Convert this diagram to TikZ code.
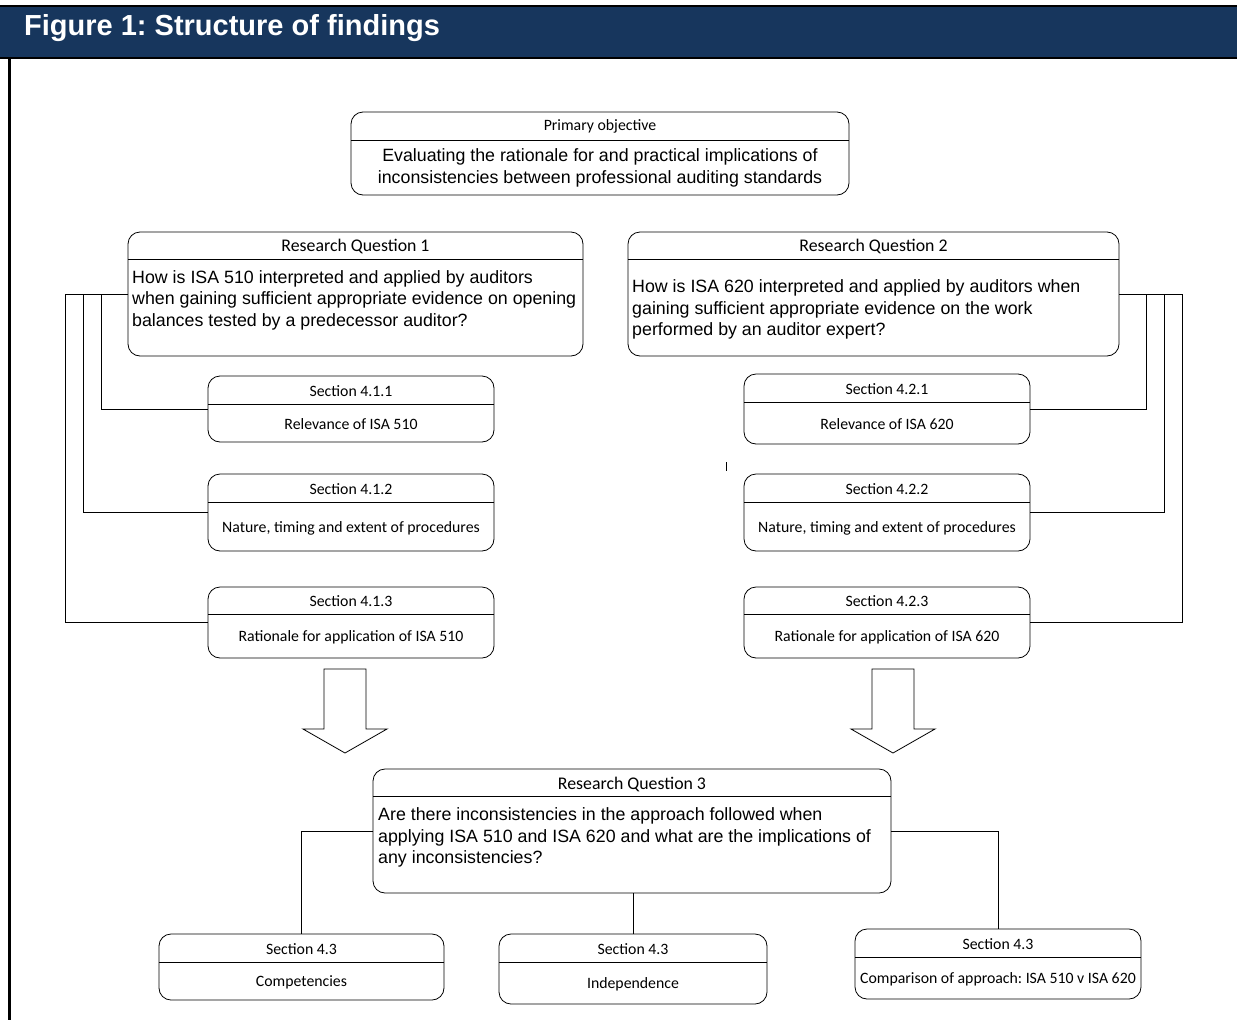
\documentclass[tikz,border=0pt]{standalone}
\usepackage{fontspec}
\setmainfont{Liberation Sans}
\newfontfamily\carlito{Carlito}
\usetikzlibrary{calc}
\definecolor{banner}{RGB}{23,54,93}
\frenchspacing

\tikzset{
  box/.style={draw, rounded corners=12pt, inner sep=0pt, outer sep=0pt, line width=0.8pt},
  headtext/.style={font=\carlito\fontsize{15.8}{19}\selectfont, inner sep=0pt},
  rqhead/.style={font=\carlito\fontsize{17.8}{21}\selectfont, inner sep=0pt},
  bodytext/.style={font=\fontsize{17.8}{21.5}\selectfont, inner sep=0pt},
  link/.style={line width=0.7pt},
  blockarrow/.style={draw, line width=0.8pt, fill=white},
}

\begin{document}
\begin{tikzpicture}[x=1pt, y=-1pt]
  \useasboundingbox (0,0) rectangle (1237,1020);
  % title bar and frame
  \fill[banner] (0,6) rectangle (1237,57);
  \draw[line width=2pt] (0,5.5) -- (1237,5.5);
  \draw[line width=2pt] (0,57.5) -- (1237,57.5);
  \draw[line width=2.5pt] (9.5,57) -- (9.5,1020);
  \node[anchor=base west, text=white, font=\bfseries\fontsize{29}{34}\selectfont, inner sep=0pt] (title) at (24,35) {Figure 1: Structure of findings};

  % primary objective
  \node[box, minimum width=498, minimum height=83] (prim) at (600,153.5) {};
  \draw ($(prim.north west)+(0,28)$) -- ($(prim.north east)+(0,28)$);
  \node[headtext] (prim-head) at ($(prim.north)+(0,14.5)$) {Primary objective};
  \node[bodytext, align=center] (prim-body) at ($(prim.north)+(0,56)$) {Evaluating the rationale for and practical implications of\\inconsistencies between professional auditing standards};

  % research questions
  \foreach \nm/\cx/\cy/\w in {rq1/355.5/294/455, rq2/873.5/294/491, rq3/632/831/518}{
    \node[box, minimum width=\w, minimum height=124] (\nm) at (\cx,\cy) {};
    \draw ($(\nm.north west)+(0,27.5)$) -- ($(\nm.north east)+(0,27.5)$);
  }
  \node[rqhead] (rq1-head) at ($(rq1.north)+(0,14.5)$) {Research Question 1};
  \node[rqhead] (rq2-head) at ($(rq2.north)+(0,14.5)$) {Research Question 2};
  \node[rqhead] (rq3-head) at ($(rq3.north)+(0,15)$) {Research Question 3};
  \node[bodytext, align=left, anchor=north west] (rq1-body) at (132,270) {How is ISA 510 interpreted and applied by auditors\\when gaining sufficient appropriate evidence on opening\\balances tested by a predecessor auditor?};
  \node[bodytext, align=left, anchor=north west] (rq2-body) at (632,279.5) {How is ISA 620 interpreted and applied by auditors when\\gaining sufficient appropriate evidence on the work\\performed by an auditor expert?};
  \node[bodytext, align=left, anchor=north west] (rq3-body) at (378,807.5) {Are there inconsistencies in the approach followed when\\applying ISA 510 and ISA 620 and what are the implications of\\any inconsistencies?};

  % sections
  \foreach \nm/\cx/\cy/\w/\h/\hd/\ttl/\txt in {
    s411/351/409/286/66/28/{Section 4.1.1}/{Relevance of ISA 510},
    s412/351/512.5/286/77/28/{Section 4.1.2}/{Nature, timing and extent of procedures},
    s413/351/622.5/286/71/27/{Section 4.1.3}/{Rationale for application of ISA 510},
    s421/887/409/286/70/28/{Section 4.2.1}/{Relevance of ISA 620},
    s422/887/512.5/286/77/28/{Section 4.2.2}/{Nature, timing and extent of procedures},
    s423/887/622.5/286/71/27/{Section 4.2.3}/{Rationale for application of ISA 620},
    comp/301.5/967/285/66/28/{Section 4.3}/{Competencies},
    indep/633/969/268/70/28/{Section 4.3}/{Independence},
    appr/998/964/286/70/28/{Section 4.3}/{Comparison of approach: ISA 510 v ISA 620}}{
    \node[box, minimum width=\w, minimum height=\h] (\nm) at (\cx,\cy) {};
    \draw ($(\nm.north west)+(0,\hd)$) -- ($(\nm.north east)+(0,\hd)$);
    \node[headtext] (\nm-head) at ($(\nm.north)+(0,\hd/2+1)$) {\ttl};
    \node[headtext] (\nm-body) at ($(\nm)+(0,\hd/2+1.5)$) {\txt};
  }

  % connectors
  \foreach \s/\d in {s411/27, s412/45, s413/63}
    \draw[link] (rq1.west) -- ++(-\d,0) |- (\s.west);
  \foreach \s/\d in {s421/27, s422/45, s423/63}
    \draw[link] (rq2.east) -- ++(\d,0) |- (\s.east);
  \draw[link] (rq3.west) -| (comp.north);
  \draw[link] (indep.north) -- (indep.north |- rq3.south);
  \draw[link] (rq3.east) -| (appr.north);

  % block arrows
  \foreach \c in {345,893}
    \draw[blockarrow] (\c-21,669) -- (\c+21,669) -- (\c+21,729) -- (\c+42,729) -- (\c,753) -- (\c-42,729) -- (\c-21,729) -- cycle;
  \draw[line width=0.6pt] (726,462) -- (726,471);
\end{tikzpicture}
\end{document}
